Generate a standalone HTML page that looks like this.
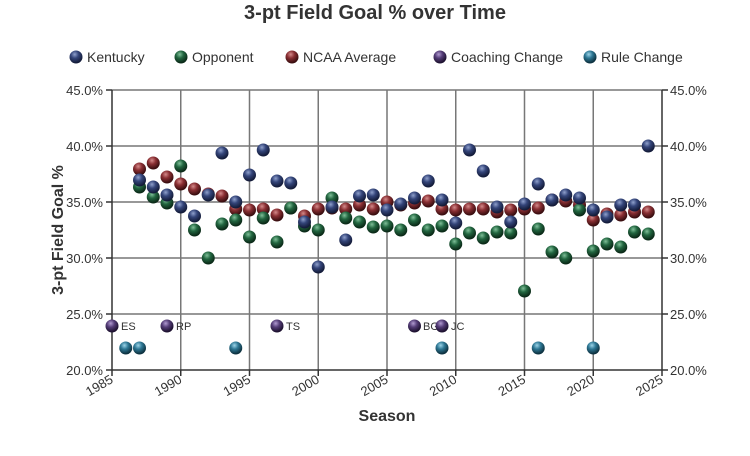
<!DOCTYPE html>
<html><head><meta charset="utf-8"><style>
html,body{margin:0;padding:0;background:#fff;}
svg{display:block;font-family:"Liberation Sans",sans-serif;}
</style></head><body>
<svg width="750" height="456" viewBox="0 0 750 456" xmlns="http://www.w3.org/2000/svg">
<defs>
<radialGradient id="gk" cx="40%" cy="30%" r="65%"><stop offset="0" stop-color="#8fa0cc"/><stop offset="0.45" stop-color="#34457a"/><stop offset="1" stop-color="#141c3a"/></radialGradient>
<radialGradient id="go" cx="40%" cy="30%" r="65%"><stop offset="0" stop-color="#7fbf98"/><stop offset="0.45" stop-color="#226640"/><stop offset="1" stop-color="#0b2a18"/></radialGradient>
<radialGradient id="gn" cx="40%" cy="30%" r="65%"><stop offset="0" stop-color="#d48a8a"/><stop offset="0.45" stop-color="#8a2f33"/><stop offset="1" stop-color="#3a0e10"/></radialGradient>
<radialGradient id="gc" cx="40%" cy="30%" r="65%"><stop offset="0" stop-color="#b09ad0"/><stop offset="0.45" stop-color="#553d78"/><stop offset="1" stop-color="#1e1230"/></radialGradient>
<radialGradient id="gr" cx="40%" cy="30%" r="65%"><stop offset="0" stop-color="#9cd4e8"/><stop offset="0.45" stop-color="#2e7895"/><stop offset="1" stop-color="#0e3240"/></radialGradient>
<circle id="k" r="6.5" fill="url(#gk)"/>
<circle id="o" r="6.5" fill="url(#go)"/>
<circle id="n" r="6.5" fill="url(#gn)"/>
<circle id="c" r="6.5" fill="url(#gc)"/>
<circle id="r" r="6.5" fill="url(#gr)"/>
</defs>
<text x="375" y="19" text-anchor="middle" font-size="20" font-weight="bold" fill="#333">3-pt Field Goal % over Time</text>
<g font-size="14" fill="#333">
<use href="#k" x="76" y="57" transform="translate(0,0)"/><text x="87" y="62">Kentucky</text>
<use href="#o" x="181" y="57"/><text x="192" y="62">Opponent</text>
<use href="#n" x="292" y="57"/><text x="303" y="62">NCAA Average</text>
<use href="#c" x="440" y="57"/><text x="451" y="62">Coaching Change</text>
<use href="#r" x="590" y="57"/><text x="601" y="62">Rule Change</text>
</g>
<g stroke="#777" stroke-width="1.5">
<line x1="112" y1="90" x2="662" y2="90"/><line x1="112" y1="146" x2="662" y2="146"/><line x1="112" y1="202" x2="662" y2="202"/><line x1="112" y1="258" x2="662" y2="258"/><line x1="112" y1="314" x2="662" y2="314"/>
<line x1="180.75" y1="90" x2="180.75" y2="370"/><line x1="249.5" y1="90" x2="249.5" y2="370"/><line x1="318.25" y1="90" x2="318.25" y2="370"/><line x1="387" y1="90" x2="387" y2="370"/><line x1="455.75" y1="90" x2="455.75" y2="370"/><line x1="524.5" y1="90" x2="524.5" y2="370"/><line x1="593.25" y1="90" x2="593.25" y2="370"/>
</g>
<g stroke="#333" stroke-width="1.5">
<line x1="112" y1="90" x2="112" y2="376"/><line x1="662" y1="90" x2="662" y2="370"/><line x1="106" y1="370" x2="668" y2="370"/>
<line x1="106" y1="90" x2="112" y2="90"/><line x1="106" y1="146" x2="112" y2="146"/><line x1="106" y1="202" x2="112" y2="202"/><line x1="106" y1="258" x2="112" y2="258"/><line x1="106" y1="314" x2="112" y2="314"/>
<line x1="662" y1="90" x2="668" y2="90"/><line x1="662" y1="146" x2="668" y2="146"/><line x1="662" y1="202" x2="668" y2="202"/><line x1="662" y1="258" x2="668" y2="258"/><line x1="662" y1="314" x2="668" y2="314"/>
<line x1="180.75" y1="370" x2="180.75" y2="376"/><line x1="249.5" y1="370" x2="249.5" y2="376"/><line x1="318.25" y1="370" x2="318.25" y2="376"/><line x1="387" y1="370" x2="387" y2="376"/><line x1="455.75" y1="370" x2="455.75" y2="376"/><line x1="524.5" y1="370" x2="524.5" y2="376"/><line x1="593.25" y1="370" x2="593.25" y2="376"/><line x1="662" y1="370" x2="662" y2="376"/>
</g>
<g font-size="13" fill="#333" text-anchor="end">
<text x="103" y="95">45.0%</text><text x="103" y="151">40.0%</text><text x="103" y="207">35.0%</text><text x="103" y="263">30.0%</text><text x="103" y="319">25.0%</text><text x="103" y="375">20.0%</text>
</g>
<g font-size="13" fill="#333" text-anchor="start">
<text x="670" y="95">45.0%</text><text x="670" y="151">40.0%</text><text x="670" y="207">35.0%</text><text x="670" y="263">30.0%</text><text x="670" y="319">25.0%</text><text x="670" y="375">20.0%</text>
</g>
<g font-size="13" fill="#333" text-anchor="end">
<text transform="translate(114,382) rotate(-30)">1985</text>
<text transform="translate(182.75,382) rotate(-30)">1990</text>
<text transform="translate(251.5,382) rotate(-30)">1995</text>
<text transform="translate(320.25,382) rotate(-30)">2000</text>
<text transform="translate(389,382) rotate(-30)">2005</text>
<text transform="translate(457.75,382) rotate(-30)">2010</text>
<text transform="translate(526.5,382) rotate(-30)">2015</text>
<text transform="translate(595.25,382) rotate(-30)">2020</text>
<text transform="translate(664,382) rotate(-30)">2025</text>
</g>
<text x="387" y="421" text-anchor="middle" font-size="16" font-weight="bold" fill="#333">Season</text>
<text transform="translate(63,230) rotate(-90)" text-anchor="middle" font-size="16" font-weight="bold" fill="#333">3-pt Field Goal %</text>
<!-- NCAA -->
<g>
<use href="#n" x="139.5" y="169"/><use href="#n" x="153.25" y="163"/><use href="#n" x="167" y="177"/><use href="#n" x="180.75" y="184"/><use href="#n" x="194.5" y="189"/><use href="#n" x="208.25" y="194"/><use href="#n" x="222" y="196"/><use href="#n" x="235.75" y="209"/><use href="#n" x="249.5" y="210"/><use href="#n" x="263.25" y="209"/><use href="#n" x="277" y="215"/><use href="#n" x="290.75" y="208"/><use href="#n" x="304.5" y="216"/><use href="#n" x="318.25" y="209"/><use href="#n" x="332" y="208"/><use href="#n" x="345.75" y="209"/><use href="#n" x="359.5" y="205"/><use href="#n" x="373.25" y="209"/><use href="#n" x="387" y="202"/><use href="#n" x="400.75" y="205"/><use href="#n" x="414.5" y="203"/><use href="#n" x="428.25" y="201"/><use href="#n" x="442" y="209"/><use href="#n" x="455.75" y="210"/><use href="#n" x="469.5" y="209"/><use href="#n" x="483.25" y="209"/><use href="#n" x="497" y="212"/><use href="#n" x="510.75" y="210"/><use href="#n" x="524.5" y="209"/><use href="#n" x="538.25" y="208"/><use href="#n" x="552" y="200"/><use href="#n" x="565.75" y="201"/><use href="#n" x="579.5" y="205"/><use href="#n" x="593.25" y="220"/><use href="#n" x="607" y="214"/><use href="#n" x="620.75" y="215"/><use href="#n" x="634.5" y="212"/><use href="#n" x="648.25" y="212"/>
</g>
<!-- Opponent -->
<g>
<use href="#o" x="139.5" y="187"/><use href="#o" x="153.25" y="197"/><use href="#o" x="167" y="203"/><use href="#o" x="180.75" y="166"/><use href="#o" x="194.5" y="230"/><use href="#o" x="208.25" y="258"/><use href="#o" x="222" y="224"/><use href="#o" x="235.75" y="220"/><use href="#o" x="249.5" y="237"/><use href="#o" x="263.25" y="218"/><use href="#o" x="277" y="242"/><use href="#o" x="290.75" y="208"/><use href="#o" x="304.5" y="226"/><use href="#o" x="318.25" y="230"/><use href="#o" x="332" y="198"/><use href="#o" x="345.75" y="218"/><use href="#o" x="359.5" y="222"/><use href="#o" x="373.25" y="227"/><use href="#o" x="387" y="226"/><use href="#o" x="400.75" y="230"/><use href="#o" x="414.5" y="220"/><use href="#o" x="428.25" y="230"/><use href="#o" x="442" y="226"/><use href="#o" x="455.75" y="244"/><use href="#o" x="469.5" y="233"/><use href="#o" x="483.25" y="238"/><use href="#o" x="497" y="232"/><use href="#o" x="510.75" y="233"/><use href="#o" x="524.5" y="291"/><use href="#o" x="538.25" y="229"/><use href="#o" x="552" y="252"/><use href="#o" x="565.75" y="258"/><use href="#o" x="579.5" y="210"/><use href="#o" x="593.25" y="251"/><use href="#o" x="607" y="244"/><use href="#o" x="620.75" y="247"/><use href="#o" x="634.5" y="232"/><use href="#o" x="648.25" y="234"/>
</g>
<!-- Kentucky -->
<g>
<use href="#k" x="139.5" y="180"/><use href="#k" x="153.25" y="187"/><use href="#k" x="167" y="195"/><use href="#k" x="180.75" y="207"/><use href="#k" x="194.5" y="216"/><use href="#k" x="208.25" y="195"/><use href="#k" x="222" y="153"/><use href="#k" x="235.75" y="202"/><use href="#k" x="249.5" y="175"/><use href="#k" x="263.25" y="150"/><use href="#k" x="277" y="181"/><use href="#k" x="290.75" y="183"/><use href="#k" x="304.5" y="222"/><use href="#k" x="318.25" y="267"/><use href="#k" x="332" y="207"/><use href="#k" x="345.75" y="240"/><use href="#k" x="359.5" y="196"/><use href="#k" x="373.25" y="195"/><use href="#k" x="387" y="210"/><use href="#k" x="400.75" y="204"/><use href="#k" x="414.5" y="198"/><use href="#k" x="428.25" y="181"/><use href="#k" x="442" y="200"/><use href="#k" x="455.75" y="223"/><use href="#k" x="469.5" y="150"/><use href="#k" x="483.25" y="171"/><use href="#k" x="497" y="207"/><use href="#k" x="510.75" y="222"/><use href="#k" x="524.5" y="204"/><use href="#k" x="538.25" y="184"/><use href="#k" x="552" y="200"/><use href="#k" x="565.75" y="195"/><use href="#k" x="579.5" y="198"/><use href="#k" x="593.25" y="210"/><use href="#k" x="607" y="217"/><use href="#k" x="620.75" y="205"/><use href="#k" x="634.5" y="205"/><use href="#k" x="648.25" y="146"/>
</g>
<!-- Coaching -->
<g font-size="11" fill="#333">
<use href="#c" x="112" y="326"/><text x="121" y="330">ES</text>
<use href="#c" x="167" y="326"/><text x="176" y="330">RP</text>
<use href="#c" x="277" y="326"/><text x="286" y="330">TS</text>
<use href="#c" x="414.5" y="326"/><text x="423" y="330">BG</text>
<use href="#c" x="442" y="326"/><text x="451" y="330">JC</text>
</g>
<!-- Rule -->
<g>
<use href="#r" x="125.75" y="348"/><use href="#r" x="139.5" y="348"/><use href="#r" x="235.75" y="348"/><use href="#r" x="442" y="348"/><use href="#r" x="538.25" y="348"/><use href="#r" x="593.25" y="348"/>
</g>
</svg>
</body></html>
